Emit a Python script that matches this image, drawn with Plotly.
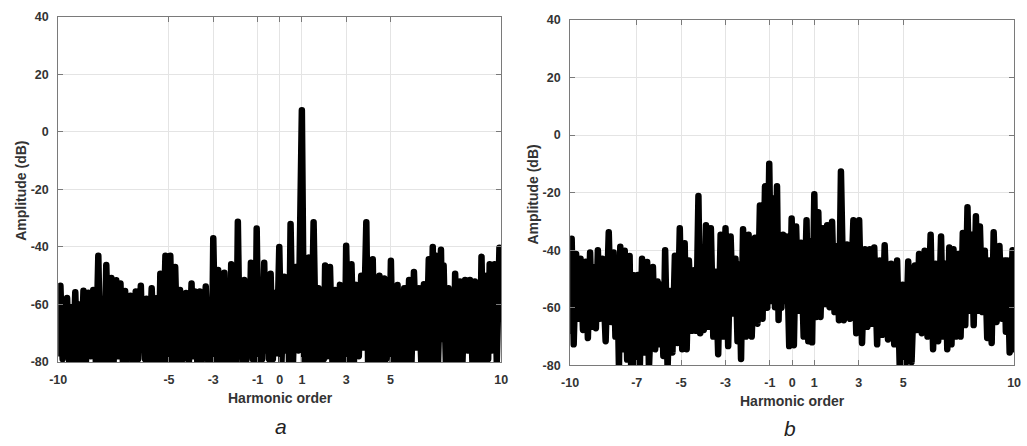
import plotly.graph_objects as go

# ---------------- data ----------------
# Panel a: harmonic order vs amplitude (dB)
x_a = [-10.0, -9.96, -9.9, -9.8, -9.7, -9.65, -9.6, -9.5, -9.42, -9.33,
       -9.23, -9.14, -9.05, -8.96, -8.86, -8.75, -8.64, -8.53, -8.42, -8.3,
       -8.19, -8.1, -8.0, -7.92, -7.83, -7.72, -7.6, -7.5, -7.38, -7.29,
       -7.19, -7.08, -6.98, -6.86, -6.74, -6.62, -6.5, -6.39, -6.27, -6.2,
       -6.13, -6.08, -6.02, -5.9, -5.78, -5.66, -5.53, -5.46, -5.39, -5.28,
       -5.16, -5.05, -4.94, -4.83, -4.72, -4.61, -4.5, -4.37, -4.23, -4.1,
       -3.98, -3.9, -3.83, -3.72, -3.61, -3.48, -3.34, -3.22, -3.12, -3.06,
       -3.0, -2.89, -2.78, -2.7, -2.62, -2.56, -2.5, -2.42, -2.34, -2.27,
       -2.19, -2.11, -2.03, -1.96, -1.89, -1.8, -1.72, -1.66, -1.6, -1.52,
       -1.44, -1.37, -1.3, -1.22, -1.15, -1.1, -1.04, -0.95, -0.87, -0.79,
       -0.7, -0.62, -0.55, -0.48, -0.41, -0.31, -0.22, -0.13, -0.02, 0.08,
       0.2, 0.28, 0.36, 0.42, 0.49, 0.6, 0.72, 0.84, 1.0, 1.1,
       1.18, 1.24, 1.31, 1.42, 1.53, 1.64, 1.75, 1.85, 1.93, 1.99,
       2.05, 2.16, 2.27, 2.38, 2.5, 2.61, 2.72, 2.8, 2.88, 2.94,
       3.0, 3.12, 3.24, 3.35, 3.46, 3.57, 3.68, 3.78, 3.91, 3.99,
       4.06, 4.13, 4.2, 4.28, 4.36, 4.43, 4.5, 4.6, 4.72, 4.8,
       4.88, 4.95, 5.02, 5.1, 5.18, 5.25, 5.32, 5.4, 5.48, 5.55,
       5.62, 5.73, 5.84, 5.95, 6.06, 6.17, 6.28, 6.39, 6.51, 6.62,
       6.73, 6.82, 6.91, 6.97, 7.03, 7.15, 7.28, 7.34, 7.4, 7.5,
       7.62, 7.72, 7.8, 7.86, 7.92, 8.03, 8.14, 8.25, 8.37, 8.48,
       8.59, 8.7, 8.81, 8.89, 8.97, 9.04, 9.11, 9.2, 9.33, 9.41,
       9.48, 9.58, 9.7, 9.8, 9.92, 10.0]
y_a = [-62, -77, -53.5, -79, -60, -78, -57.8, -80, -61, -79,
       -55.8, -80, -60, -79, -55.2, -80, -55.9, -78, -55, -80,
       -43.1, -79, -58, -80, -46.3, -79, -50.8, -80, -51.6, -78,
       -52.7, -80, -55.3, -79, -57, -80, -55.5, -79, -53.5, -74,
       -60, -79, -58, -80, -54.4, -79, -57.8, -80, -49.3, -79,
       -43.1, -80, -43.1, -79, -47, -80, -55, -79, -56, -80,
       -52.7, -78, -55.5, -80, -55.5, -79, -53.8, -80, -60, -79,
       -37, -80, -48, -79, -57, -80, -49, -79, -57, -80,
       -46, -79, -56, -80, -31.3, -78, -57, -80, -51.5, -80,
       -56, -76, -45.5, -79, -55, -80, -33.6, -80, -54, -79,
       -45.5, -76, -56, -79, -49.3, -79, -56, -77, -40, -80,
       -50.4, -76, -56, -80, -32, -80, -47, -76, 7.5, -80,
       -56, -79, -43.7, -79, -31.4, -81, -54.4, -80, -57, -79,
       -46.5, -78, -47, -80, -55, -81, -53.2, -80, -58, -79,
       -39.6, -81, -46, -80, -53.2, -78, -50, -75, -31.4, -80,
       -57, -79, -44.3, -80, -56, -79, -50, -80, -51, -79,
       -57, -76, -44.8, -80, -58, -79, -53.2, -80, -58, -79,
       -54.4, -79, -51.5, -80, -48.7, -75, -54.4, -80, -53, -79,
       -44.3, -80, -40, -79, -43, -80, -41, -72, -46.5, -80,
       -54.4, -80, -58, -79, -49.3, -79, -52, -80, -51.5, -76,
       -51.5, -80, -52, -79, -57, -80, -43.4, -80, -50, -79,
       -46, -76, -46, -80, -40.3, -62]

# Panel b
x_b = [-10.0, -9.98, -9.93, -9.84, -9.73, -9.63, -9.53, -9.42, -9.3, -9.2,
       -9.1, -9.01, -8.92, -8.84, -8.75, -8.66, -8.55, -8.4, -8.26, -8.15,
       -8.04, -7.96, -7.88, -7.8, -7.74, -7.64, -7.54, -7.43, -7.32, -7.25,
       -7.17, -7.06, -6.95, -6.86, -6.76, -6.65, -6.53, -6.45, -6.27, -6.17,
       -6.06, -5.98, -5.89, -5.8, -5.72, -5.61, -5.5, -5.39, -5.28, -5.17,
       -5.06, -4.95, -4.84, -4.75, -4.65, -4.53, -4.42, -4.32, -4.22, -4.14,
       -4.07, -3.98, -3.88, -3.77, -3.66, -3.55, -3.44, -3.33, -3.22, -3.11,
       -3.0, -2.88, -2.77, -2.66, -2.55, -2.46, -2.38, -2.3, -2.21, -2.08,
       -1.96, -1.82, -1.67, -1.56, -1.45, -1.33, -1.22, -1.12, -1.03, -0.94,
       -0.86, -0.77, -0.68, -0.61, -0.55, -0.48, -0.41, -0.33, -0.25, -0.13,
       -0.02, 0.08, 0.18, 0.29, 0.4, 0.52, 0.65, 0.73, 0.81, 0.9,
       1.0, 1.09, 1.18, 1.28, 1.39, 1.48, 1.58, 1.69, 1.8, 1.91,
       2.02, 2.11, 2.2, 2.33, 2.47, 2.61, 2.76, 2.89, 3.02, 3.15,
       3.28, 3.39, 3.5, 3.6, 3.7, 3.83, 3.95, 4.06, 4.17, 4.32,
       4.46, 4.6, 4.73, 4.85, 4.98, 5.1, 5.23, 5.38, 5.53, 5.62,
       5.72, 5.84, 5.97, 6.1, 6.24, 6.35, 6.46, 6.58, 6.71, 6.8,
       6.9, 6.99, 7.08, 7.18, 7.27, 7.38, 7.49, 7.59, 7.69, 7.8,
       7.9, 8.0, 8.09, 8.18, 8.28, 8.37, 8.46, 8.57, 8.68, 8.79,
       8.9, 8.99, 9.08, 9.21, 9.34, 9.45, 9.56, 9.63, 9.7, 9.8,
       9.93, 9.98, 10.0]
y_b = [-54, -68, -36, -72.7, -41.3, -63.8, -43, -67.7, -44, -70.5,
       -40.8, -66.6, -46, -67.1, -40, -63.8, -43, -71.6, -33.8, -64.9,
       -40.8, -70, -46, -81, -38.8, -74.4, -40.2, -78, -42, -81,
       -48.6, -81, -48.6, -81, -43, -75.5, -44.1, -81, -45.8, -74.4,
       -50.9, -72.7, -52, -76.7, -40, -81, -54.2, -75.5, -41.9, -72.2,
       -32.4, -74.4, -37.6, -74.4, -43.6, -68, -47, -68, -21.2, -68.8,
       -41.9, -67.7, -31.3, -66.6, -32.4, -70, -47.5, -76.1, -34.6, -70,
       -32.4, -73.3, -35.2, -62, -43, -71.6, -45, -77.8, -32.7, -70,
       -34.6, -70, -35.7, -65.5, -24.5, -63.8, -17.8, -60, -10, -57.6,
       -22, -59.8, -17.8, -64.2, -40, -60, -34.6, -57.6, -35.2, -73.3,
       -29, -73, -31.8, -61, -37.4, -70, -29.6, -71.6, -36.9, -72,
       -20.6, -63.2, -26.8, -63.2, -32.4, -58.7, -31.3, -59.8, -30.1, -61.5,
       -38.5, -64.3, -12.7, -64.3, -38, -63.8, -29.6, -68.8, -29.6, -72.2,
       -39.7, -66.6, -39.7, -65.5, -39.1, -72.7, -43.6, -69.4, -38.3, -71,
       -44.7, -72.7, -43.6, -81, -52, -81, -43.9, -78.9, -45.3, -67.7,
       -41.3, -68.8, -40.2, -70, -34.6, -74.4, -44.7, -71.6, -35.2, -70,
       -44.7, -74.4, -39.1, -72.7, -39.7, -70, -41.3, -70, -34, -66,
       -25.1, -61, -34.6, -66, -28.2, -61, -31.8, -61.5, -40.2, -70.5,
       -43.6, -72.2, -33.8, -64.9, -38.5, -63.8, -43.6, -68.3, -43.6, -75.5,
       -40, -74.4, -55]

xticks_a = [-10, -5, -3, -1, 0, 1, 3, 5, 10]
xticks_b = [-10, -7, -5, -3, -1, 0, 1, 3, 5, 10]
yticks = [-80, -60, -40, -20, 0, 20, 40]
x_title = "Harmonic order"
y_title = "Amplitude (dB)"
captions = ["a", "b"]

# ---------------- figure ----------------
W, H = 1027, 446
def fx(p):
    return p / W
def fy(p):
    return 1 - p / H

FONT = "Liberation Sans, Arial, Helvetica, sans-serif"
TXT = "#333333"

fig = go.Figure()
fig.add_trace(go.Scatter(x=x_a, y=y_a, mode="lines", xaxis="x", yaxis="y",
                         line=dict(color="black", width=6.5),
                         showlegend=False, hoverinfo="skip"))
fig.add_trace(go.Scatter(x=x_b, y=y_b, mode="lines", xaxis="x2", yaxis="y2",
                         line=dict(color="black", width=6.5),
                         showlegend=False, hoverinfo="skip"))

common = dict(showline=True, linecolor="#7a7a7a", linewidth=1, mirror="ticks",
              ticks="inside", ticklen=5, tickcolor="#7a7a7a", tickwidth=1,
              showgrid=True, gridcolor="#e4e4e4", gridwidth=1, zeroline=False,
              ticklabelstandoff=6,
              tickfont=dict(family=FONT, size=12.5, color=TXT, weight="bold"))

fig.update_layout(
    width=W, height=H,
    margin=dict(l=0, r=0, t=0, b=0),
    paper_bgcolor="white", plot_bgcolor="white",
    xaxis=dict(domain=[fx(50), fx(500)], range=[-10, 10], anchor="y",
               tickmode="array", tickvals=xticks_a,
               ticktext=[str(v) for v in xticks_a], **common),
    yaxis=dict(domain=[fy(366.5), fy(10)], range=[-80, 40], anchor="x",
               tickmode="array", tickvals=yticks,
               ticktext=[str(v) for v in yticks], **common),
    xaxis2=dict(domain=[fx(570), fx(1021)], range=[-10, 10], anchor="y2",
                tickmode="array", tickvals=xticks_b,
                ticktext=[str(v) for v in xticks_b], **common),
    yaxis2=dict(domain=[fy(370), fy(13.3)], range=[-80, 40], anchor="x2",
                tickmode="array", tickvals=yticks,
                ticktext=[str(v) for v in yticks], **common),
)

ann = []
title_font = dict(family=FONT, size=14, color=TXT, weight="bold")
ann.append(dict(text=y_title, x=fx(12), y=fy(190), xref="paper", yref="paper",
                showarrow=False, textangle=-90, font=title_font,
                xanchor="center", yanchor="middle"))
ann.append(dict(text=y_title, x=fx(532), y=fy(194), xref="paper", yref="paper",
                showarrow=False, textangle=-90, font=title_font,
                xanchor="center", yanchor="middle"))
ann.append(dict(text=x_title, x=fx(276), y=fy(404), xref="paper", yref="paper",
                showarrow=False, font=title_font, xanchor="center", yanchor="middle"))
ann.append(dict(text=x_title, x=fx(796), y=fy(407), xref="paper", yref="paper",
                showarrow=False, font=title_font, xanchor="center", yanchor="middle"))
cap_font = dict(family=FONT, size=21, color="#222222", style="italic")
ann.append(dict(text=captions[0], x=fx(276), y=fy(433), xref="paper", yref="paper",
                showarrow=False, font=cap_font, xanchor="center", yanchor="middle"))
ann.append(dict(text=captions[1], x=fx(793), y=fy(435), xref="paper", yref="paper",
                showarrow=False, font=cap_font, xanchor="center", yanchor="middle"))
fig.update_layout(annotations=ann)

post = ("document.querySelectorAll('.js-line').forEach(function(p){"
        "p.style.strokeLinejoin='round';p.style.strokeLinecap='round';});")
fig.write_html("out.html", post_script=post)
